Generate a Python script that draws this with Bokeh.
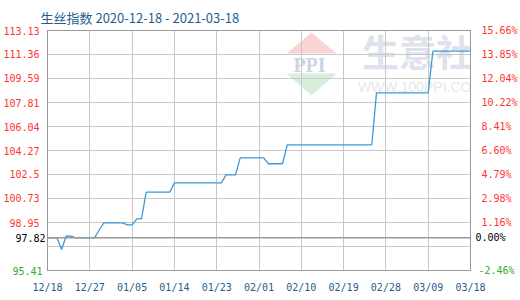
import pandas as pd
from bokeh.plotting import figure
from bokeh.models import (ColumnDataSource, Range1d, FixedTicker, LinearAxis,
                          DatetimeTickFormatter, Span, Label, PolyAnnotation)
from bokeh.embed import file_html
from bokeh.resources import INLINE

# Raw silk index, daily, 2020-12-18 .. 2021-03-18
dates = pd.date_range("2020-12-18", "2021-03-18", freq="D")
index_values = [
    97.82, 97.82, 97.82, 96.96, 97.97, 97.95, 97.82, 97.82, 97.82, 97.82,
    97.82, 98.40, 98.93, 98.93, 98.93, 98.93, 98.93, 98.78, 98.78, 99.22,
    99.22, 101.19, 101.19, 101.19, 101.19, 101.19, 101.19, 101.88, 101.88, 101.88,
    101.88, 101.88, 101.88, 101.88, 101.88, 101.88, 101.88, 101.88, 102.47, 102.47,
    102.47, 103.73, 103.73, 103.73, 103.73, 103.73, 103.73, 103.29, 103.29, 103.29,
    103.29, 104.69, 104.69, 104.69, 104.69, 104.69, 104.69, 104.69, 104.69, 104.69,
    104.69, 104.69, 104.69, 104.69, 104.69, 104.69, 104.69, 104.69, 104.69, 104.69,
    108.53, 108.53, 108.53, 108.53, 108.53, 108.53, 108.53, 108.53, 108.53, 108.53,
    108.53, 108.53, 111.60, 111.60, 111.60, 111.60, 111.60, 111.60, 111.60, 111.60,
    111.60,
]

base_value = 97.82
y_min, y_max = 95.41, 113.13

# horizontal grid levels
grid_levels = [95.41, 97.18, 98.95, 100.73, 102.50, 104.27, 106.04, 107.81,
               109.59, 111.36, 113.13]
# labelled (red) levels with their left / right texts
red_ticks = [98.95, 100.73, 102.50, 104.27, 106.04, 107.81, 109.59, 111.36, 113.13]
red_left_labels = ["98.95", "100.73", "102.5", "104.27", "106.04", "107.81",
                   "109.59", "111.36", "113.13"]
red_right_labels = ["1.16%", "2.98%", "4.79%", "6.60%", "8.41%", "10.22%",
                    "12.04%", "13.85%", "15.66%"]
base_left_label, base_right_label = "97.82", "0.00%"
low_left_label, low_right_label = "95.41", "-2.46%"

x_tick_dates = pd.date_range("2020-12-18", "2021-03-18", freq="9D")
x_ticks = [d.value // 10**6 for d in x_tick_dates]

title_blue = "#1f5e8e"
red = "#ff3333"
green = "#33aa33"
grid_gray = "#c8c8c8"
tick_font = "DejaVu Sans Mono"

p = figure(width=520, height=300, output_backend="svg", toolbar_location=None,
           x_axis_type="datetime",
           x_range=Range1d(dates[0], dates[-1]), y_range=Range1d(y_min, y_max),
           min_border_left=41, min_border_right=50, min_border_top=30,
           min_border_bottom=30,
           title="生丝指数 2020-12-18 - 2021-03-18")
p.outline_line_color = "#999999"

p.title.text_font = "Noto Sans CJK SC"
p.title.text_font_size = "13px"
p.title.text_font_style = "normal"
p.title.text_color = title_blue
p.title.align = "left"
p.title.offset = -7
p.title.standoff = 8

# grid at the date ticks and at every level
p.xgrid[0].ticker = FixedTicker(ticks=x_ticks)
p.ygrid[0].ticker = FixedTicker(ticks=grid_levels)
p.xgrid[0].grid_line_color = grid_gray
p.ygrid[0].grid_line_color = grid_gray


def style_y_axis(axis, color, standoff, line_color=None):
    axis.axis_line_color = line_color
    axis.major_tick_line_color = None
    axis.minor_tick_line_color = None
    axis.major_tick_out = 0
    axis.major_tick_in = 0
    axis.minor_tick_out = 0
    axis.minor_tick_in = 0
    axis.major_label_standoff = standoff
    axis.major_label_text_font = tick_font
    axis.major_label_text_font_size = "10px"
    axis.major_label_text_color = color


def level_axis(ticks, labels):
    return LinearAxis(ticker=FixedTicker(ticks=ticks),
                      major_label_overrides=dict(zip(ticks, labels)))


# x axis
xa = p.xaxis[0]
xa.ticker = FixedTicker(ticks=x_ticks)
xa.formatter = DatetimeTickFormatter(days="%m/%d", months="%m/%d", years="%m/%d",
                                     hours="%m/%d", context=None)
xa.axis_line_color = "#999999"
xa.major_tick_line_color = None
xa.minor_tick_line_color = None
xa.major_tick_out = 0
xa.major_tick_in = 0
xa.minor_tick_out = 0
xa.major_label_standoff = 11
xa.major_label_text_font = tick_font
xa.major_label_text_font_size = "10px"
xa.major_label_text_color = title_blue

# Left side: three stacked axes (base level black, bottom level green, the rest red);
# the outer ones use a negative standoff so that all labels end at the same x.
ya = p.yaxis[0]
ya.ticker = FixedTicker(ticks=[base_value])
ya.major_label_overrides = {base_value: base_left_label}
style_y_axis(ya, "black", 2, "#999999")
left_green = level_axis([y_min], [low_left_label])
style_y_axis(left_green, green, -30)
p.add_layout(left_green, "left")
left_red = level_axis(red_ticks, red_left_labels)
style_y_axis(left_red, red, -30)
p.add_layout(left_red, "left")

# Right side: change vs. base value, same stacking
right_base = level_axis([base_value], [base_right_label])
style_y_axis(right_base, "black", 5, "#999999")
p.add_layout(right_base, "right")
right_green = level_axis([y_min], [low_right_label])
style_y_axis(right_green, green, -30)
p.add_layout(right_green, "right")
right_red = level_axis(red_ticks, red_right_labels)
style_y_axis(right_red, red, -36)
p.add_layout(right_red, "right")

# watermark (screen units measured from the frame's lower-left corner)
wm_level = "image"
p.add_layout(PolyAnnotation(xs=[264, 239, 289], ys=[238, 217, 217],
                            xs_units="screen", ys_units="screen",
                            fill_color="#f8d5d2", fill_alpha=1, line_color=None,
                            level=wm_level))
p.add_layout(PolyAnnotation(xs=[239, 289, 264], ys=[197, 197, 175],
                            xs_units="screen", ys_units="screen",
                            fill_color="#d8eedb", fill_alpha=1, line_color=None,
                            level=wm_level))
p.add_layout(Label(x=262, y=206, x_units="screen", y_units="screen", text="PPI",
                   text_align="center", text_baseline="middle",
                   text_font="Liberation Serif", text_font_style="bold",
                   text_font_size="20px", text_color="#ccd5e6", level=wm_level))
p.add_layout(Label(x=370, y=220, x_units="screen", y_units="screen", text="生意社",
                   text_align="center", text_baseline="middle",
                   text_font="Noto Sans CJK SC", text_font_style="bold",
                   text_font_size="37px", text_color="#dde2ec", level=wm_level))
p.add_layout(Label(x=373, y=184, x_units="screen", y_units="screen",
                   text="WWW.100PPI.COM", text_align="center", text_baseline="middle",
                   text_font="Liberation Sans", text_font_size="14px",
                   text_color="#e8e8e8", level=wm_level))

# base line
p.add_layout(Span(location=base_value, dimension="width", line_color="#999999",
                  line_width=1.5))

src = ColumnDataSource(dict(date=dates, value=index_values))
p.line("date", "value", source=src, line_color="#3b9ad8", line_width=1.3)

open("out.html", "w").write(file_html(p, INLINE))
